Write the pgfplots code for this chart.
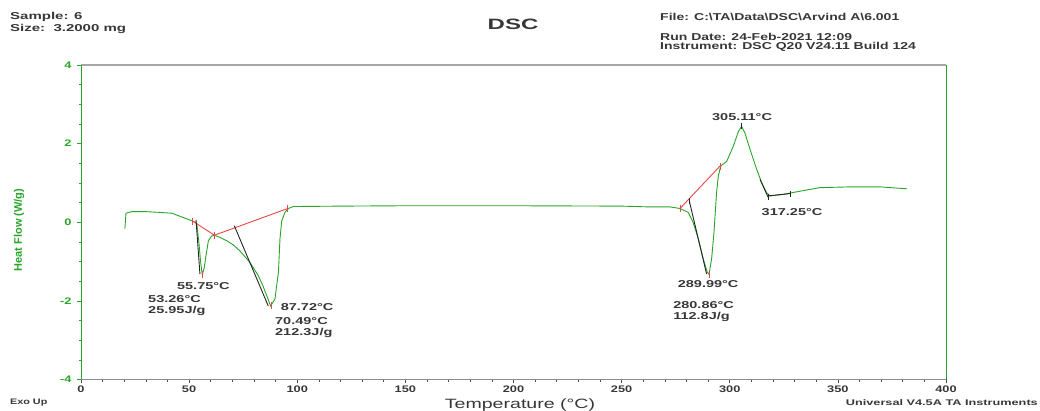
\documentclass[border=0pt]{standalone}
\usepackage{pgfplots}
\pgfplotsset{compat=1.18}
\usepackage{graphicx}
\usepackage{fontspec}
\setmainfont{Liberation Sans}
\definecolor{dscgreen}{RGB}{40,165,40}
\definecolor{dscred}{RGB}{235,70,70}
\definecolor{txt}{RGB}{55,55,55}
\newcommand{\sx}[1]{\scalebox{1.35}[1]{#1}}
\newcommand{\sh}[1]{\scalebox{1.5}[1]{#1}}
\newcommand{\slb}[1]{\scalebox{1.45}[1]{#1}}
\newcommand{\hd}{\fontsize{10}{11}\selectfont\bfseries}
\newcommand{\lb}{\fontsize{10}{11}\selectfont\bfseries}
\begin{document}
\begin{tikzpicture}[x=1pt,y=1pt]
\path[use as bounding box] (0,0) rectangle (1040,411);
\begin{axis}[
  at={(81pt,31.5pt)}, anchor=south west, scale only axis,
  width=865pt, height=314.5pt,
  xmin=0, xmax=400, ymin=-4, ymax=4,
  xtick={0,50,...,400}, minor x tick num=4,
  ytick={-4,-2,0,2,4}, minor y tick num=3,
  tick pos=left, tick align=outside,
  major tick length=4pt, minor tick length=2.5pt,
  axis line style={draw=none},
  xtick style={black!70, line width=0.6pt},
  ytick style={dscgreen, line width=0.6pt},
  xticklabel={\sx{\color{txt}\fontsize{9.5}{10}\selectfont\bfseries\pgfmathprintnumber[assume math mode=true]{\tick}}},
  yticklabel={\sx{\color{dscgreen}\fontsize{9.5}{10}\selectfont\bfseries\pgfmathprintnumber[assume math mode=true]{\tick}}},
  xticklabel style={yshift=1pt},
  yticklabel style={xshift=-2pt},
  clip=false,
]
\draw[black!35, line width=1.2pt] (rel axis cs:0,1) -- (rel axis cs:1,1);
\draw[black!45, line width=0.8pt] (rel axis cs:0,0) -- (rel axis cs:1,0);
\draw[dscgreen, line width=1pt] (rel axis cs:0,0) -- (rel axis cs:0,1);
\draw[dscgreen, line width=1pt] (rel axis cs:1,0) -- (rel axis cs:1,1);
% DSC curve
\addplot[dscgreen, line width=0.9pt] coordinates {
(20.3,-0.16) (20.8,0.23) (23.4,0.27) (30,0.27) (36.5,0.25) (42,0.23) (47.3,0.12)
(51.6,0.03) (53.5,-0.02) (54.5,-0.5) (55.3,-1.0) (56.1,-1.34) (57,-1.15) (57.8,-0.85)
(58.9,-0.47) (60.4,-0.35) (61.7,-0.33) (64,-0.38) (67.4,-0.47) (70.5,-0.58) (73.5,-0.73)
(78.1,-1.02) (82,-1.36) (84,-1.6) (85.9,-1.87) (87.7,-2.13) (89.7,-1.95) (90.5,-1.6)
(91.3,-1.27) (92,-0.43) (92.8,0.03) (94.3,0.25) (95.9,0.35) (98.2,0.4) (120,0.41)
(150,0.42) (200,0.42) (250,0.41) (263,0.39) (272.4,0.39) (277,0.35) (280.8,0.25)
(283.1,-0.01) (285.5,-0.43) (287.8,-0.94) (289.6,-1.27) (290.4,-1.32) (291.6,-0.94)
(292.7,-0.26) (293.9,0.75) (294.7,1.17) (295.8,1.43) (298.6,1.55) (301.6,1.93)
(304,2.31) (305.5,2.44) (307,2.27) (309.4,1.85) (312.5,1.34) (314.8,1.0) (317.1,0.75)
(318.6,0.67) (324.8,0.71) (332.5,0.79) (341.7,0.88) (355.6,0.9) (369.5,0.9) (382,0.85)
};
% red baselines
\addplot[dscred, line width=0.9pt] coordinates {(51.6,0.03) (61.7,-0.33) (95.6,0.35)};
\addplot[dscred, line width=0.9pt] coordinates {(277,0.35) (295.5,1.43)};
\addplot[only marks, mark=|, mark size=3.5pt, dscred, line width=0.8pt] coordinates {
(51.6,0.03) (61.7,-0.33) (95.6,0.35) (56.1,-1.34) (87.9,-2.13) (277,0.35) (295.5,1.43) (290.4,-1.32)};
% black tangents
\addplot[black!85, line width=0.9pt] coordinates {(53.2,0.06) (55,-1.32)};
\addplot[black!85, line width=0.9pt] coordinates {(70.9,-0.09) (86.6,-2.13)};
\addplot[black!85, line width=0.9pt] coordinates {(281.3,0.54) (289.3,-1.32)};
\addplot[black!85, line width=0.9pt] coordinates {(314,1.09) (317.8,0.63)};
\addplot[black!85, line width=0.9pt] coordinates {(317.8,0.67) (327.9,0.73)};
\addplot[only marks, mark=|, mark size=3pt, black!85, line width=0.8pt] coordinates {
(281.3,0.54) (305.5,2.44) (317.8,0.65) (327.9,0.73)};
% labels
\node[txt] at (axis cs:56.6,-1.62) {\slb{\lb 55.75°C}};
\node[txt, anchor=north west, align=left, inner sep=0pt] at (axis cs:31,-1.86) {\slb{\lb 53.26°C}\\[-1.5pt]\slb{\lb 25.95J/g}};
\node[txt, anchor=west, inner sep=0pt] at (axis cs:92.3,-2.16) {\slb{\lb 87.72°C}};
\node[txt, anchor=north west, align=left, inner sep=0pt] at (axis cs:89.7,-2.42) {\slb{\lb 70.49°C}\\[-1.5pt]\slb{\lb 212.3J/g}};
\node[txt] at (axis cs:305.7,2.68) {\slb{\lb 305.11°C}};
\node[txt] at (axis cs:328.8,0.26) {\slb{\lb 317.25°C}};
\node[txt] at (axis cs:290,-1.57) {\slb{\lb 289.99°C}};
\node[txt, anchor=north west, align=left, inner sep=0pt] at (axis cs:273.8,-2.02) {\slb{\lb 280.86°C}\\[-1.5pt]\slb{\lb 112.8J/g}};
\end{axis}
% header and footer texts
\node[txt, anchor=west, inner sep=0pt] at (10,411-17) {\sh{\hd Sample: 6}};
\node[txt, anchor=west, inner sep=0pt] at (10,411-29) {\sh{\hd Size:\ \ 3.2000 mg}};
\node[txt] at (513,411-24) {\scalebox{1.6}[1]{\fontsize{15}{16}\selectfont\bfseries DSC}};
\node[txt, anchor=west, inner sep=0pt] at (660,411-16.5) {\scalebox{1.4}[1]{\hd File: C:\textbackslash TA\textbackslash Data\textbackslash DSC\textbackslash Arvind A\textbackslash 6.001}};
\node[txt, anchor=west, inner sep=0pt] at (660,411-37) {\scalebox{1.4}[1]{\hd Run Date: 24-Feb-2021 12:09}};
\node[txt, anchor=west, inner sep=0pt] at (660,411-47) {\scalebox{1.4}[1]{\hd Instrument: DSC Q20 V24.11 Build 124}};
\node[txt, anchor=west, inner sep=0pt] at (10,411-403) {\sx{\fontsize{8}{9}\selectfont\bfseries Exo Up}};
\node[txt, anchor=east, inner sep=0pt] at (1038,411-403) {\scalebox{1.55}[1]{\fontsize{8.2}{9}\selectfont\bfseries Universal V4.5A TA Instruments}};
\node[txt] at (520,411-405) {\scalebox{1.45}[1]{\fontsize{13.5}{14}\selectfont Temperature (°C)}};
\node[dscgreen, rotate=90] at (19,411-230) {\fontsize{11}{12}\selectfont\bfseries Heat Flow (W/g)};
\end{tikzpicture}
\end{document}
